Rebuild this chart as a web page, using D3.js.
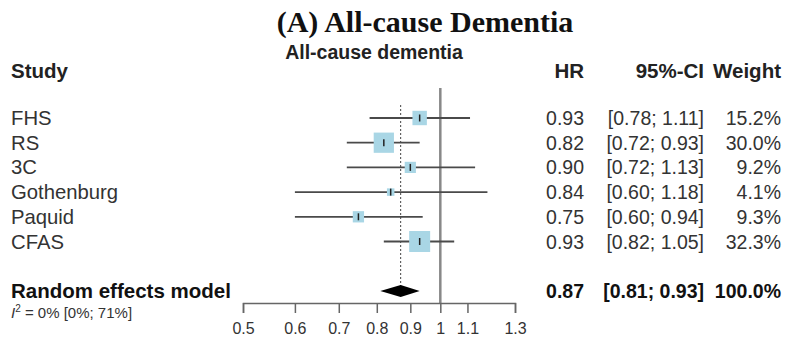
<!DOCTYPE html>
<html>
<head>
<meta charset="utf-8">
<script src="https://cdn.jsdelivr.net/npm/d3@7"></script>
<style>
  body { margin: 0; background: #fff; }
  svg { display: block; }
  text { font-family: "Liberation Sans", Arial, sans-serif; }
</style>
</head>
<body>
<svg id="forest"></svg>
<script>
// Study data
const studies = ['FHS', 'RS', '3C', 'Gothenburg', 'Paquid', 'CFAS'];
const hr = [0.93, 0.82, 0.90, 0.84, 0.75, 0.93];
const lower = [0.78, 0.72, 0.72, 0.60, 0.60, 0.82];
const upper = [1.11, 0.93, 1.13, 1.18, 0.94, 1.05];
const weights = [15.2, 30.0, 9.2, 4.1, 9.3, 32.3];

// Pooled estimate
const pooledHr = 0.87;
const pooledLower = 0.81;
const pooledUpper = 0.93;
const pooledWeight = 100.0;

const xTicks = [0.5, 0.6, 0.7, 0.8, 0.9, 1, 1.1, 1.3];

const W = 786, H = 344;
const svg = d3.select('#forest').attr('width', W).attr('height', H);

const x = d3.scaleLog().domain([0.5, 1.3]).range([243, 515]);
const row = d3.scaleLinear().domain([0, 1]).range([118, 142.7]);
const box = d3.scaleSqrt().domain([0, d3.max(weights)]).range([0, 21]);

const fmt2 = d3.format('.2f');
const fmtW = d => d3.format('.1f')(d) + '%';
const ciText = (l, u) => '[' + fmt2(l) + '; ' + fmt2(u) + ']';

const axisY = 303;
const fs = 19.5;     // numbers
const fsLab = 20.3;  // study labels
const fsBold = 20.5; // bold headers

// Titles
svg.append('text')
    .attr('x', 425).attr('y', 32)
    .attr('text-anchor', 'middle')
    .style('font-family', '"Liberation Serif", "Times New Roman", serif')
    .style('font-weight', 'bold')
    .style('font-size', '30px')
    .style('fill', '#111')
    .text('(A) All-cause Dementia');

svg.append('text')
    .attr('x', 374).attr('y', 59)
    .attr('text-anchor', 'middle')
    .style('font-weight', 'bold')
    .style('font-size', fs + 'px')
    .style('fill', '#222')
    .text('All-cause dementia');

// Column headers
const headerY = 78;
const headers = [
    { t: 'Study', x: 11, a: 'start' },
    { t: 'HR', x: 584, a: 'end' },
    { t: '95%-CI', x: 704, a: 'end' },
    { t: 'Weight', x: 781, a: 'end' }
];
svg.selectAll('.hdr')
    .data(headers)
    .enter()
    .append('text')
    .attr('class', 'hdr')
    .attr('x', d => d.x).attr('y', headerY)
    .attr('text-anchor', d => d.a)
    .style('font-weight', 'bold')
    .style('font-size', fsBold + 'px')
    .style('fill', '#222')
    .text(d => d.t);

// Reference line at HR = 1
svg.append('line')
    .attr('x1', x(1)).attr('x2', x(1))
    .attr('y1', 88).attr('y2', axisY)
    .style('stroke', '#888')
    .style('stroke-width', 2.5);

// Dotted line at pooled estimate
svg.append('line')
    .attr('x1', x(pooledHr)).attr('x2', x(pooledHr))
    .attr('y1', 105).attr('y2', 297)
    .style('stroke', '#444')
    .style('stroke-width', 1)
    .style('stroke-dasharray', '2,2');

const idx = d3.range(studies.length);

// CI lines
svg.selectAll('.ci')
    .data(idx)
    .enter()
    .append('line')
    .attr('class', 'ci')
    .attr('x1', i => x(lower[i])).attr('x2', i => x(upper[i]))
    .attr('y1', i => row(i)).attr('y2', i => row(i))
    .style('stroke', '#4a4a4a')
    .style('stroke-width', 1.8);

// Weight squares
svg.selectAll('.sq')
    .data(idx)
    .enter()
    .append('rect')
    .attr('class', 'sq')
    .attr('x', i => x(hr[i]) - box(weights[i]) / 2)
    .attr('y', i => row(i) - box(weights[i]) / 2)
    .attr('width', i => box(weights[i]))
    .attr('height', i => box(weights[i]))
    .style('fill', '#a9d6e5');

// Point ticks
svg.selectAll('.pt')
    .data(idx)
    .enter()
    .append('line')
    .attr('class', 'pt')
    .attr('x1', i => x(hr[i])).attr('x2', i => x(hr[i]))
    .attr('y1', i => row(i) - 3.5).attr('y2', i => row(i) + 3.5)
    .style('stroke', '#222')
    .style('stroke-width', 1.5);

// Row text
const cols = [
    { x: 11, a: 'start', s: fsLab, f: i => studies[i] },
    { x: 584, a: 'end', s: fs, f: i => fmt2(hr[i]) },
    { x: 704, a: 'end', s: fs, f: i => ciText(lower[i], upper[i]) },
    { x: 781, a: 'end', s: fs, f: i => fmtW(weights[i]) }
];
cols.forEach(c => {
    svg.selectAll(null)
        .data(idx)
        .enter()
        .append('text')
        .attr('x', c.x).attr('y', i => row(i) + 7)
        .attr('text-anchor', c.a)
        .style('font-size', c.s + 'px')
        .style('fill', '#333')
        .text(c.f);
});

// Pooled row
const py = row(7);
const diamond = [
    [x(pooledLower), py], [x(pooledHr), py - 6],
    [x(pooledUpper), py], [x(pooledHr), py + 6]
];
svg.append('polygon')
    .attr('points', diamond.map(p => p.join(',')).join(' '))
    .style('fill', '#000');

const pooledCols = [
    { x: 11, a: 'start', t: 'Random effects model' },
    { x: 584, a: 'end', t: fmt2(pooledHr) },
    { x: 704, a: 'end', t: ciText(pooledLower, pooledUpper) },
    { x: 781, a: 'end', t: fmtW(pooledWeight) }
];
svg.selectAll('.pooled')
    .data(pooledCols)
    .enter()
    .append('text')
    .attr('class', 'pooled')
    .attr('x', d => d.x).attr('y', py + 7)
    .attr('text-anchor', d => d.a)
    .style('font-weight', 'bold')
    .style('font-size', (d, i) => (i === 0 ? fsBold : fs) + 'px')
    .style('fill', '#111')
    .text(d => d.t);

// Heterogeneity
const het = svg.append('text')
    .attr('x', 11).attr('y', 318)
    .style('font-size', '15px')
    .style('fill', '#333');
het.append('tspan').style('font-style', 'italic').text('I');
het.append('tspan').attr('dy', -6).style('font-size', '10px').text('2');
het.append('tspan').attr('dy', 6).text(' = 0% [0%; 71%]');

// X axis
const axis = svg.append('g')
    .attr('transform', `translate(0,${axisY})`)
    .call(d3.axisBottom(x)
        .tickValues(xTicks)
        .tickFormat(d => String(d))
        .tickSize(10)
        .tickPadding(10));
axis.select('.domain').style('stroke', '#666').style('stroke-width', 1.5);
axis.selectAll('.tick line').style('stroke', '#666').style('stroke-width', 1.5);
axis.selectAll('.tick text')
    .style('font-family', '"Liberation Sans", Arial, sans-serif')
    .style('font-size', '16px')
    .style('fill', '#333');
</script>
</body>
</html>
